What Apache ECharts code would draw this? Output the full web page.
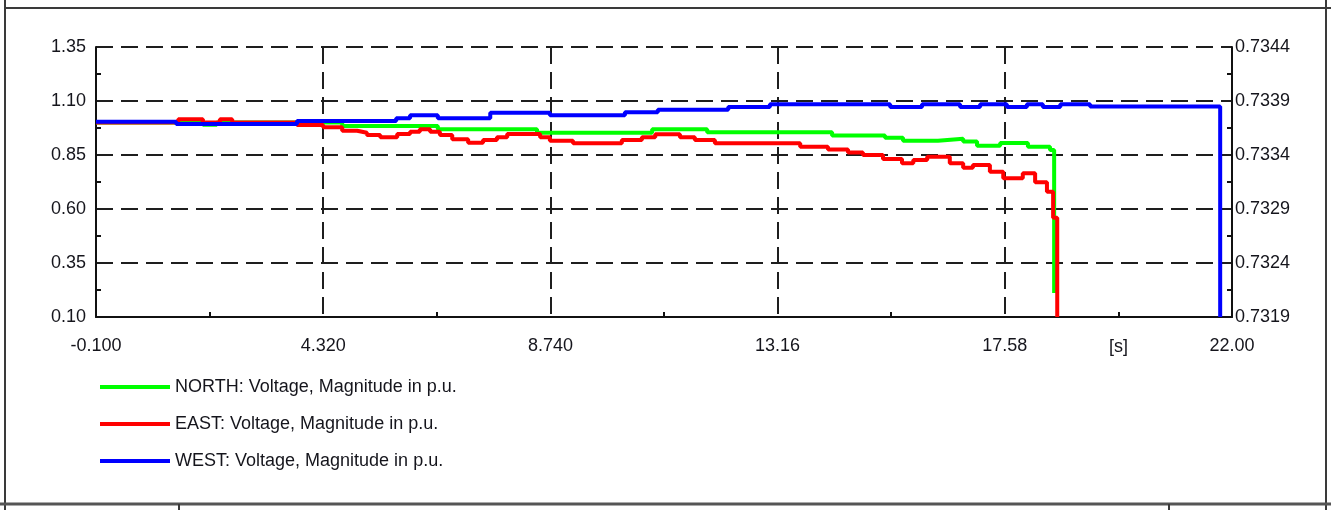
<!DOCTYPE html>
<html><head><meta charset="utf-8">
<script src="https://cdn.jsdelivr.net/npm/echarts@6/dist/echarts.min.js"></script>
<style>html,body{margin:0;padding:0;background:#fff;overflow:hidden}#c{width:1331px;height:510px}</style>
</head><body><div id="c"></div>
<script>
// ---- data (time in s, voltage in p.u.) ----
const xTickLabels = ['-0.100', '4.320', '8.740', '13.16', '17.58', '22.00'];
const seriesNames = ['NORTH: Voltage, Magnitude in p.u.', 'EAST: Voltage, Magnitude in p.u.', 'WEST: Voltage, Magnitude in p.u.'];

const northT = [-0.1, 1.98, 2.25, 4.69, 6.55, 8.48, 10.72, 11.79, 14.22, 15.25, 15.6, 16.28, 16.77, 17.04, 17.49, 18.03, 18.46, 18.54];
const northV = [1.0, 0.99, 1.0, 0.984, 0.969, 0.953, 0.969, 0.955, 0.94, 0.93, 0.916, 0.925, 0.912, 0.893, 0.906, 0.888, 0.873, 0.211];

const eastT = [-0.1, 1.5, 1.98, 2.31, 2.55, 3.81, 4.32, 4.69, 4.98, 5.17, 5.43, 5.76, 6.01, 6.2, 6.4, 6.59, 6.83, 7.14, 7.43, 7.7, 7.9, 8.54, 8.73, 9.18, 10.13, 10.52, 10.78, 11.26, 11.55, 11.94, 13.6, 14.14, 14.53, 14.82, 15.21, 15.58, 15.8, 16.07, 16.51, 16.77, 16.96, 17.29, 17.55, 17.93, 18.17, 18.4, 18.52, 18.6];
const eastV = [1.0, 1.015, 1.0, 1.015, 1.0, 0.989, 0.978, 0.962, 0.953, 0.943, 0.932, 0.947, 0.958, 0.969, 0.958, 0.943, 0.923, 0.907, 0.919, 0.932, 0.947, 0.932, 0.916, 0.904, 0.919, 0.932, 0.946, 0.932, 0.919, 0.904, 0.888, 0.876, 0.862, 0.85, 0.831, 0.812, 0.827, 0.842, 0.812, 0.791, 0.804, 0.773, 0.742, 0.765, 0.724, 0.68, 0.56, 0.1];

const westT = [-0.1, 1.46, 3.81, 5.74, 6.01, 6.55, 7.57, 8.73, 10.19, 10.83, 12.2, 13.01, 15.35, 15.97, 16.71, 17.1, 17.62, 18.01, 18.32, 18.66, 19.24, 21.77];
const westV = [1.004, 0.993, 1.007, 1.02, 1.034, 1.02, 1.046, 1.034, 1.048, 1.06, 1.072, 1.085, 1.072, 1.085, 1.072, 1.085, 1.072, 1.085, 1.072, 1.085, 1.075, 0.1];

const colors = ['#00ff00', '#ff0000', '#0000ff'];
// -------------------------------------------

const F = "'Liberation Sans',Arial,sans-serif";
const FS = 18;
const TXT = '#15151c';
const zip = (t, v) => t.map((x, i) => [x, v[i]]);
const chart = echarts.init(document.getElementById('c'), null, {renderer: 'canvas'});

const dashed = {show: true, lineStyle: {color: '#1e1e1e', width: 2, type: [17, 8]}};
const minor = {show: true, splitNumber: 2, length: 5, lineStyle: {color: '#111', width: 2}};

function mkSeries(name, t, v, c, z) {
  return {name, type: 'line', step: 'end', data: zip(t, v), showSymbol: false, symbol: 'none',
    lineStyle: {color: c, width: 4}, itemStyle: {color: c}, z, clip: true};
}

chart.setOption({
  animation: false,
  backgroundColor: '#fff',
  grid: {left: 96, right: 99, top: 47, bottom: 193, containLabel: false},
  xAxis: {
    type: 'value', min: -0.1, max: 22.0, interval: 4.42,
    axisLine: {show: true, onZero: false, lineStyle: {color: '#111', width: 2}},
    axisTick: {show: false, inside: true},
    minorTick: minor,
    splitLine: dashed,
    axisLabel: {margin: 20, color: TXT, fontFamily: F, fontSize: FS,
      formatter: v => xTickLabels[Math.round((v + 0.1) / 4.42)] || ''}
  },
  yAxis: [{
    type: 'value', min: 0.10, max: 1.35, interval: 0.25, position: 'left',
    axisLine: {show: true, onZero: false, lineStyle: {color: '#111', width: 2}},
    axisTick: {show: false, inside: true},
    minorTick: minor,
    splitLine: dashed,
    axisLabel: {margin: 10, color: TXT, fontFamily: F, fontSize: FS, formatter: v => v.toFixed(2)}
  }, {
    type: 'value', min: 0.7319, max: 0.7344, interval: 0.0005, position: 'right',
    axisLine: {show: true, onZero: false, lineStyle: {color: '#111', width: 2}},
    axisTick: {show: false, inside: true},
    minorTick: minor,
    splitLine: {show: false},
    axisLabel: {margin: 3, color: TXT, fontFamily: F, fontSize: FS, formatter: v => v.toFixed(4)}
  }],
  legend: {
    orient: 'vertical', left: 95, top: 373, itemWidth: 70, itemHeight: 4, itemGap: 19,
    icon: 'rect', data: seriesNames,
    textStyle: {color: TXT, fontFamily: F, fontSize: FS}
  },
  series: [
    mkSeries(seriesNames[0], northT, northV, colors[0], 2),
    mkSeries(seriesNames[1], eastT, eastV, colors[1], 3),
    mkSeries(seriesNames[2], westT, westV, colors[2], 4)
  ]
});

const sx = chart.convertToPixel({xAxisIndex: 0}, 19.79);
const frame = {stroke: '#3a3a3a', lineWidth: 2};
chart.setOption({
  graphic: [
    {type: 'text', x: sx, y: 347, style: {text: '[s]', fill: TXT, font: FS + "px " + F, align: 'center', verticalAlign: 'middle'}},
    {type: 'line', shape: {x1: 5, y1: 8, x2: 1331, y2: 8}, style: frame},
    {type: 'line', shape: {x1: 5, y1: 0, x2: 5, y2: 510}, style: frame},
    {type: 'line', shape: {x1: 1326, y1: 0, x2: 1326, y2: 510}, style: frame},
    {type: 'line', shape: {x1: 0, y1: 504, x2: 1331, y2: 504}, style: {stroke: '#555', lineWidth: 3}},
    {type: 'line', shape: {x1: 179, y1: 504, x2: 179, y2: 510}, style: frame},
    {type: 'line', shape: {x1: 1169, y1: 504, x2: 1169, y2: 510}, style: frame}
  ]
});
</script>
</body></html>
